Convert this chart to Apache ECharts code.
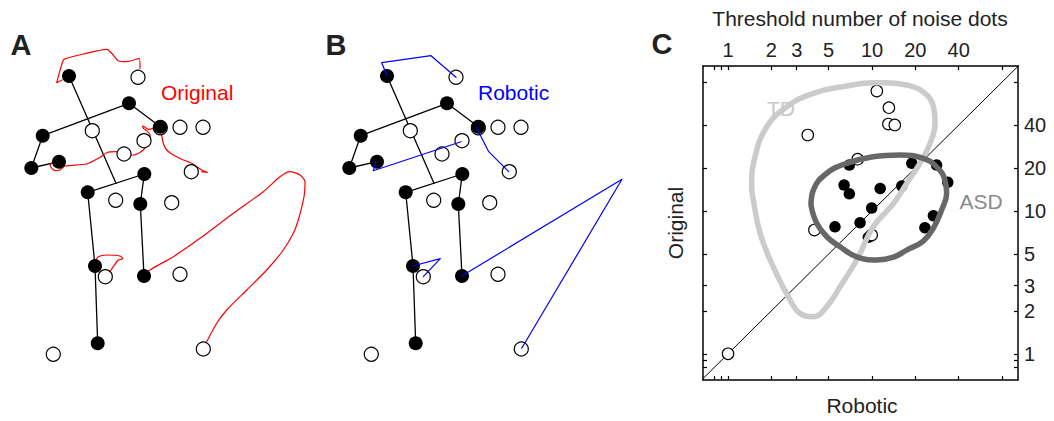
<!DOCTYPE html>
<html><head><meta charset="utf-8">
<script src="https://cdn.jsdelivr.net/npm/echarts@6/dist/echarts.min.js"></script>
<style>html,body{margin:0;padding:0;background:#fff;}#chart{width:1054px;height:421px;}</style>
</head><body><div id="chart"></div>
<script>
// ---------- Panels A/B: point-light figure (figure units) ----------
const jointX = [69, 129, 42.7, 31.3, 59, 160.3, 144.3, 87.7, 140.3, 95, 144, 97.7];
const jointY = [76, 103.3, 135.7, 168, 161.7, 126.7, 174, 192.3, 204, 266, 276, 343.3];
const openX = [138, 92.3, 160.3, 180, 203, 144, 124, 191.3, 115.7, 171.7, 105.3, 180, 53.3, 203.3];
const openY = [77.3, 130.7, 127.8, 127.3, 127.3, 140.7, 154, 171.7, 200.3, 202.7, 276.7, 274.3, 354.3, 349];
// bones: pairs of joint indices; spine runs from head (0) to mid-hip (6,7)
const bones = [[1, 2], [1, 5], [2, 3], [3, 4], [6, 7], [7, 9], [9, 11], [6, 8], [8, 10]];

// Original (red) trajectories
const redHead = [[62,80],[56.7,82.7],[63.3,60],[66.7,58.3],[83.3,54],[106.7,49.3],[111.7,53.3],[118.3,60.7],[126.7,61.7],[139.3,58.3],[140,68.3]];
const redLeftHand = [[52,163],[50,165],[55,170.7],[60,170],[65,166],[86.7,164],[100,157.3],[106.7,152.7],[116.7,151.7],[125,155],[133.3,155],[143.3,150],[149.3,140],[150,135],[146.7,130.7],[143.3,128.3],[142.7,126],[145,127.3],[148.3,129.3],[153.3,128.3]];
const redRightWrist = [[160.3,128],[161.7,135],[163.3,143.3],[166.7,150],[173.3,155],[183.3,160],[191.7,163.3],[196.7,166.7],[201.7,170],[207.3,172.3],[201.7,171.7]];
const redKnee = [[95,262],[98.3,256.7],[106.7,255],[120,256],[122.7,258.7],[118.3,260],[113.3,266.7],[110,271.7]];
const redFoot = [[144,276],[150,270],[173.3,256.7],[200,238.3],[233.3,213.3],[263.3,191.7],[280,176.7],[290,171.7],[300,175],[305,181.7],[304,196.7],[298.3,220],[293.3,233.3],[283.3,250],[266.7,270],[246.7,290],[226.7,310],[216.7,323.3],[206.7,341.7]];

// Robotic (blue) trajectories
const blueHead = [[68.7,75],[63.7,62.7],[113,55.7],[138,77.3]];
const blueRightWrist = [[158.3,127.3],[170.7,151.7],[190.7,171.7]];
const blueLeftWrist = [[58,161.7],[55.3,170.7],[143,141.7]];
const blueKnee = [[94.7,266],[122.3,258.7],[105.3,276.7]];
const blueFoot = [[143.7,276],[304,179.3],[203.7,348.3]];

// ---------- Panel C: thresholds ----------
const tdRobotic  = [10.8, 13.1, 13.0, 14.4, 3.58, 7.95, 3.98, 9.95, 1];
const tdOriginal = [69.3, 53, 40.7, 40.1, 34.1, 23.1, 7.36, 6.79, 1];
const asdRobotic  = [6.96, 6.4, 6.96, 11.4, 9.95, 5.53, 8.26, 9.43, 16.1, 18.9, 28.1, 33.6, 26.7, 23.3];
const asdOriginal = [21.0, 15.2, 13.2, 14.4, 10.5, 7.76, 8.28, 6.54, 15.0, 21.6, 21.0, 15.9, 9.27, 7.64];
const tdContourX = [12.65,17.4,22.7,26.7,27.4,25.3,21.5,17.4,14.1,10.2,7.83,6.0,4.85,3.91,3.16,2.70,2.06,1.67,1.50,1.46,1.54,1.86,2.56,3.91,6.67,10.2,12.65];
const tdContourY = [79.3,76.4,68.5,53.8,41.2,29.8,21.6,15.6,11.3,7.76,4.54,2.95,2.14,1.82,1.92,2.38,4.07,6.98,11.9,14.8,24.0,39.0,53.8,66.8,75.2,79.3,79.3];
const asdContourX = [3.77,3.91,4.85,6.67,10.2,15.6,22.7,28.1,32.1,33.0,30.5,26.7,22.7,17.4,14.1,10.8,7.83,6.0,4.85,4.13,3.77];
const asdContourY = [11.0,14.0,18.4,21.6,24.0,24.7,23.4,20.4,16.5,13.3,10.2,7.60,6.16,5.33,4.75,4.54,4.78,5.62,6.61,8.20,11.0];
const tickLabels = [1, 2, 3, 5, 10, 20, 40];
const tickMarks = [0.8, 0.9, 1, 2, 3, 5, 10, 20, 40, 80];
const axisRange = [0.67, 103.3];
const axisRangeY = [0.655, 103.8];

// ---------- build ----------
const FONT = '"Liberation Sans", Arial, Helvetica, sans-serif';
const L = v => Math.log10(v);
const zip = (xs, ys, f) => xs.map((x, i) => f ? [f(x), f(ys[i])] : [x, ys[i]]);

function path(points, gi, color, width, smooth, z) {
  return { type: 'line', xAxisIndex: gi, yAxisIndex: gi, data: points, symbol: 'none', showSymbol: false,
    smooth: smooth || false, lineStyle: { color: color, width: width, cap: 'round', join: 'round' }, silent: true, z: z, animation: false, clip: false };
}
function dots(points, gi, size, fill, border, bw, z) {
  return { type: 'scatter', xAxisIndex: gi, yAxisIndex: gi, data: points, symbol: 'circle', symbolSize: size,
    itemStyle: { color: fill, borderColor: border, borderWidth: bw, opacity: 1 }, silent: true, z: z, animation: false };
}

const series = [];
const joints = zip(jointX, jointY);
const opens = zip(openX, openY);
const midHip = [(jointX[6] + jointX[7]) / 2, (jointY[6] + jointY[7]) / 2];
const redPaths = [redHead, redLeftHand, redRightWrist, redKnee, redFoot];
const bluePaths = [blueHead, blueRightWrist, blueLeftWrist, blueKnee, blueFoot];

[0, 1].forEach(gi => {
  series.push(path([joints[0], midHip], gi, '#000', 1.3, false, 2));
  bones.forEach(b => series.push(path([joints[b[0]], joints[b[1]]], gi, '#000', 1.3, false, 2)));
  if (gi === 0) redPaths.forEach(p => series.push(path(p, 0, '#ff0000', 1.2, 0.25, 3)));
  series.push(dots(opens, gi, 14, '#fff', '#000', 1.2, 4));
  series.push(dots(joints, gi, 14, '#000', '#000', 0, 5));
  if (gi === 1) bluePaths.forEach(p => series.push(path(p, 1, '#0000ff', 1.2, false, 6)));
});

// Panel C
const diag = path([[L(0.5), L(0.5)], [L(200), L(200)]], 2, '#000', 1, false, 2); diag.clip = true;
series.push(diag);
series.push(dots(zip(asdRobotic, asdOriginal, L), 2, 11.5, '#000', '#000', 0, 3));
series.push(dots(zip(tdRobotic, tdOriginal, L), 2, 11.5, '#fff', '#000', 1.1, 4));
const tdC = path(zip(tdContourX, tdContourY, L), 2, '#cbcbcb', 5.5, 0.45, 5); tdC.clip = true;
const asdC = path(zip(asdContourX, asdContourY, L), 2, '#676767', 5.5, 0.45, 6); asdC.clip = true;
series.push(tdC, asdC);

const fmt = v => String(Math.round(Math.pow(10, v)));
const axLine = { show: true, onZero: false, lineStyle: { color: '#000', width: 1.5 } };
const tick = { show: true, inside: true, length: 4, customValues: tickMarks.map(L), lineStyle: { color: '#000', width: 1.2 } };
const lab = { show: true, customValues: tickLabels.map(L), formatter: fmt, fontSize: 20, fontFamily: FONT, color: '#222', margin: 6 };
const hiddenX = gi => ({ gridIndex: gi, type: 'value', min: 0, max: 318, show: false });
const hiddenY = gi => ({ gridIndex: gi, type: 'value', min: 0, max: 421, inverse: true, show: false });

function txt(t, x, y, font, color, align) {
  return { type: 'text', x: x, y: y, z: 100, silent: true,
    style: { text: t, x: 0, y: 0, font: font, fill: color, align: align, verticalAlign: 'middle', textAlign: align, textVerticalAlign: 'middle' } };
}

const option = {
  animation: false,
  grid: [
    { left: 0, top: 0, width: 318, height: 421 },
    { left: 318, top: 0, width: 318, height: 421 },
    { left: 703, top: 66, width: 315, height: 314 }
  ],
  xAxis: [
    hiddenX(0), hiddenX(1),
    { gridIndex: 2, type: 'value', position: 'bottom', min: L(axisRange[0]), max: L(axisRange[1]), axisLine: axLine, axisTick: tick, axisLabel: { show: false }, splitLine: { show: false } },
    { gridIndex: 2, type: 'value', position: 'top', min: L(axisRange[0]), max: L(axisRange[1]), axisLine: axLine, axisTick: tick, axisLabel: lab, splitLine: { show: false } }
  ],
  yAxis: [
    hiddenY(0), hiddenY(1),
    { gridIndex: 2, type: 'value', position: 'left', min: L(axisRangeY[0]), max: L(axisRangeY[1]), axisLine: axLine, axisTick: tick, axisLabel: { show: false }, splitLine: { show: false } },
    { gridIndex: 2, type: 'value', position: 'right', min: L(axisRangeY[0]), max: L(axisRangeY[1]), axisLine: axLine, axisTick: tick, axisLabel: lab, splitLine: { show: false } }
  ],
  series: series,
  graphic: [
    txt('A', 21, 45, 'bold 29px ' + FONT, '#222', 'center'),
    txt('B', 336, 45, 'bold 29px ' + FONT, '#222', 'center'),
    txt('C', 662, 44, 'bold 29px ' + FONT, '#222', 'center'),
    txt('Original', 161, 92, '21px ' + FONT, '#ff0000', 'left'),
    txt('Robotic', 478, 92, '21px ' + FONT, '#0000ff', 'left'),
    txt('Threshold number of noise dots', 860, 18, '21px ' + FONT, '#222', 'center'),
    txt('Robotic', 862, 405, '21px ' + FONT, '#222', 'center'),
    Object.assign(txt('Original', 675, 223, '21px ' + FONT, '#222', 'center'), { rotation: Math.PI / 2 }),
    txt('TD', 781, 108, '21px ' + FONT, '#c8c8c8', 'center'),
    txt('ASD', 981, 201, '21px ' + FONT, '#8a8a8a', 'center')
  ]
};
const chart = echarts.init(document.getElementById('chart'), null, { renderer: 'svg' });
chart.setOption(option);
</script></body></html>
